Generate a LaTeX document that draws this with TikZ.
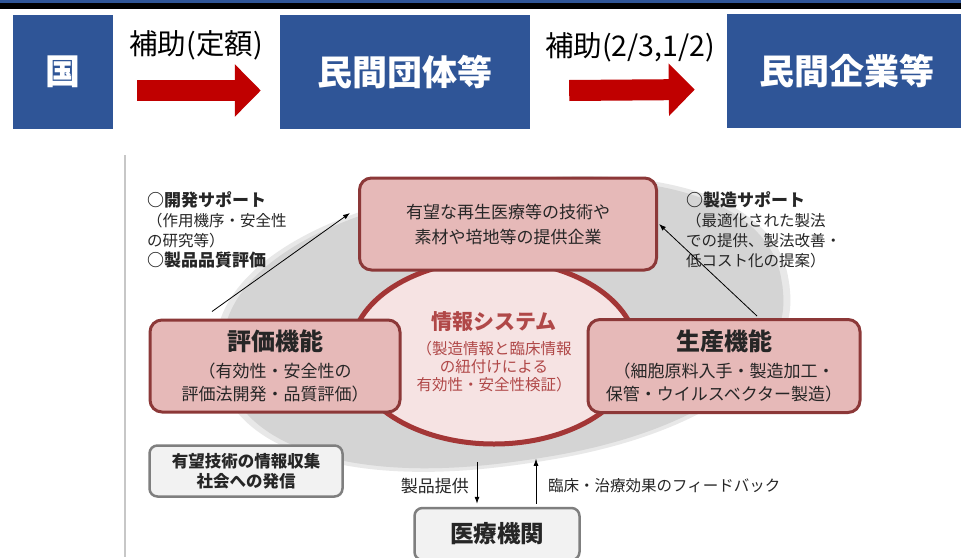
\documentclass[tikz,border=0pt]{standalone}
\usepackage{fontspec}
\setmainfont{Noto Sans CJK JP}
\usetikzlibrary{arrows.meta,shapes.geometric}
\definecolor{headblue}{HTML}{2F5597}
\definecolor{arrowred}{HTML}{C00000}
\definecolor{boxpink}{HTML}{E6B9B8}
\definecolor{boxrim}{HTML}{8C3838}
\definecolor{ringfill}{HTML}{F6E3E3}
\definecolor{ringrim}{HTML}{A33636}
\definecolor{infored}{HTML}{B04848}
\definecolor{panelgray}{HTML}{F2F2F2}
\definecolor{rimgray}{HTML}{7F7F7F}
\newcommand{\fsz}[2]{\fontsize{#1}{#2}\selectfont}

\begin{document}
\begin{tikzpicture}[x=1pt, y=-1pt, inner sep=0pt,
		headbox/.style={fill=headblue, text=white, font=\fsz{35}{40}\bfseries, minimum height=114pt},
		subsidy/.style={font=\fsz{28.5}{30}},
		bigarrow/.style={arrowred, line width=21pt, -{Triangle[length=26pt, width=51pt]}},
		pinkbox/.style={draw=boxrim, line width=3pt, fill=boxpink, rounded corners=12pt, align=center, text=black!85},
		graybox/.style={draw=rimgray, line width=2.5pt, fill=panelgray, rounded corners=8pt, align=center, text=black!85},
		note/.style={align=left, anchor=north west, font=\fsz{15.5}{20}, text=black!85},
		thinarrow/.style={-{Latex[length=7pt, width=5pt]}, line width=0.8pt}]
		\useasboundingbox (0,0) rectangle (961,557);
		\fill[white] (0,0) rectangle (961,557);

		% header
		\fill[headblue] (0,0) rectangle (961,3);
		\fill[black] (0,3) rectangle (961,8.5);
		\node [headbox, minimum width=100pt] (kuni) at (63,72) {国};
		\node [headbox, minimum width=250pt] (dantai) at (405,72) {民間団体等};
		\node [headbox, minimum width=240pt] (minkan) at (847,71) {民間企業等};
		\node [subsidy] (sub1) at (196,45) {補助(定額)};
		\node [subsidy] (sub2) at (630,47) {補助(2/3,1/2)};
		\draw [bigarrow] ([xshift=24pt, yshift=-18.5pt]kuni.east) -- ([xshift=-19pt, yshift=-18.5pt]dantai.west);
		\draw [bigarrow] ([xshift=39pt, yshift=-18.5pt]dantai.east) -- ([xshift=-32pt, yshift=-18.5pt]minkan.west);

		% lower figure
		\draw [black!22, line width=1.5pt] (125,155) -- (125,557);
		\foreach \r/\c in {1.025/9, 1.0/17}
			\fill [black!\c, rotate around={8:(503,324)}] plot [domain=0.5:360.5, samples=91, smooth cycle]
				({503 + \r*282*sign(cos(\x))*abs(cos(\x))^(0.9)}, {324 + \r*138*sign(sin(\x))*abs(sin(\x))^(0.9)});

		\node [ellipse, draw=ringrim, line width=5pt, fill=ringfill, minimum width=286pt, minimum height=184pt,
			align=center, text=infored, font=\fsz{15.5}{18}] (info) at (494,352)
			{{\fsz{21}{21}\bfseries 情報システム}\\[7pt]（製造情報と臨床情報\\の紐付けによる\\有効性・安全性検証）};
		\node [pinkbox, minimum width=297pt, minimum height=92pt, font=\fsz{17}{25}] (teikyo) at (508,224)
			{有望な再生医療等の技術や\\素材や培地等の提供企業};
		\node [pinkbox, minimum width=250pt, minimum height=92pt, font=\fsz{17}{23}] (hyoka) at (275,366)
			{{\fsz{24}{24}\bfseries 評価機能}\\[4pt]（有効性・安全性の\\評価法開発・品質評価）};
		\node [pinkbox, minimum width=272pt, minimum height=93pt, font=\fsz{17}{23}] (seisan) at (724,366)
			{{\fsz{24}{24}\bfseries 生産機能}\\[4pt]（細胞原料入手・製造加工・\\保管・ウイルスベクター製造）};

		\node [note] (kaihatsu) at (147,191)
			{{\fsz{17}{20}\bfseries ○開発サポート}\\（作用機序・安全性\\の研究等）\\{\fsz{17}{20}\bfseries ○製品品質評価}};
		\node [note] (seizo) at (686,191)
			{{\fsz{17}{20}\bfseries ○製造サポート}\\（最適化された製法\\での提供、製法改善・\\低コスト化の提案）};
		\draw [thinarrow] ([xshift=-63pt, yshift=7pt]hyoka.north) -- ([xshift=-8pt, yshift=11pt]teikyo.west);
		\draw [thinarrow] ([xshift=33pt, yshift=2pt]seisan.north) -- ([xshift=1pt]teikyo.east);

		\node [graybox, minimum width=193pt, minimum height=51pt, font=\fsz{16.5}{20}\bfseries] (joho) at (246,471)
			{有望技術の情報収集\\社会への発信};
		\node [graybox, minimum width=165pt, minimum height=52pt, font=\fsz{23.5}{24}\bfseries] (iryo) at (497,534)
			{\raisebox{3pt}{医療機関}};
		\draw [thinarrow] ([xshift=-20pt, yshift=45pt]iryo.north) -- ([xshift=-20pt, yshift=3pt]iryo.north);
		\draw [thinarrow] ([xshift=39pt, yshift=3pt]iryo.north) -- ([xshift=39pt, yshift=48pt]iryo.north);
		\node [anchor=east, font=\fsz{17}{20}, text=black!85] (teikyotxt) at (469,486) {製品提供};
		\node [anchor=west, font=\fsz{15.5}{20}, text=black!85] (fbtxt) at (548,486) {臨床・治療効果のフィードバック};
\end{tikzpicture}
\end{document}
